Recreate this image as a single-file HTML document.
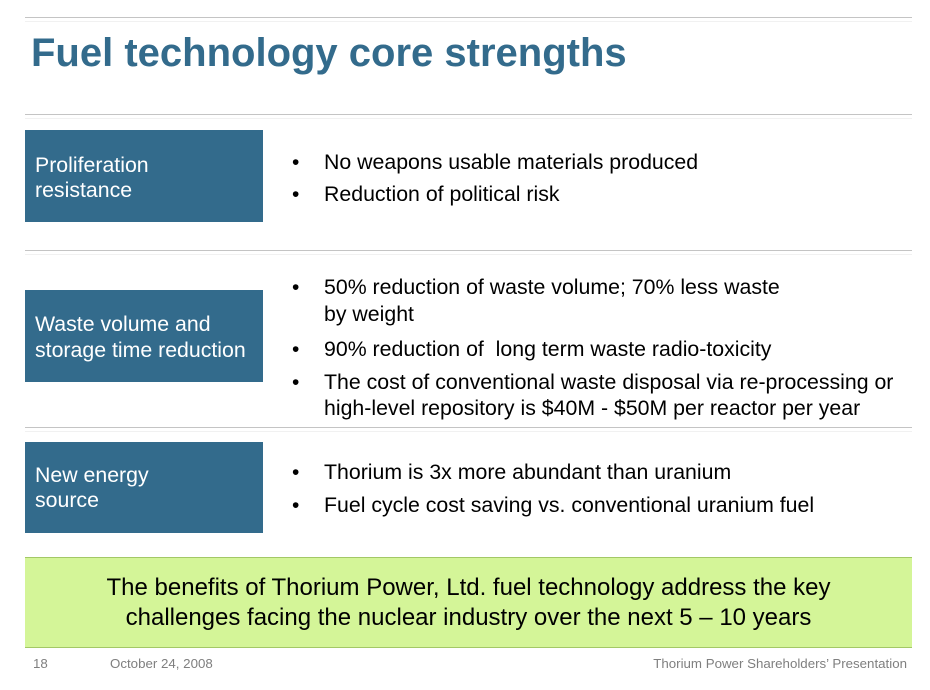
<!DOCTYPE html>
<html>
<head>
<meta charset="utf-8">
<style>
  html, body { margin:0; padding:0; }
  body { width:930px; height:690px; position:relative; background:#ffffff; overflow:hidden;
         font-family:"Liberation Sans", Arial, sans-serif; }
  .abs { position:absolute; white-space:nowrap; }
  .hr { position:absolute; left:25px; width:887px; height:1px; background:#c4c4c4; }
  .hr2 { position:absolute; left:25px; width:887px; height:1px; background:#f1f1f1; }
  .title { left:31px; top:30px; font-size:40px; line-height:46px; font-weight:bold; color:#336b8c; }
  .box { position:absolute; left:25px; width:238px; background:#336b8c; }
  .lab { left:35px; font-size:21.3px; color:#ffffff; }
  .dot { left:292px; font-size:21px; line-height:25px; color:#000; }
  .bt { left:324px; font-size:21.3px; line-height:25px; color:#000; }
  .green { position:absolute; left:25px; top:557px; width:887px; height:89px; background:#d4f598;
           border-top:1px solid #a3c866; border-bottom:1px solid #a3c866; }
  .gt { left:25px; width:887px; top:573px; font-size:24px; line-height:30px; text-align:center; color:#000; }
  .ft { top:656px; font-size:13.3px; line-height:15px; color:#7f7f7f; }
</style>
</head>
<body>
  <div class="hr" style="top:17px"></div>
  <div class="hr2" style="top:21px"></div>
  <div class="abs title">Fuel technology core strengths</div>

  <div class="hr" style="top:114px"></div>
  <div class="hr2" style="top:118px"></div>

  <div class="box" style="top:130px;height:92px"></div>
  <div class="abs lab" style="top:153px;line-height:25px">Proliferation<br>resistance</div>
  <div class="abs dot" style="top:150px">•</div>
  <div class="abs bt" style="top:150px">No weapons usable materials produced</div>
  <div class="abs dot" style="top:182px">•</div>
  <div class="abs bt" style="top:182px">Reduction of political risk</div>

  <div class="hr" style="top:250px"></div>
  <div class="hr2" style="top:254px"></div>

  <div class="box" style="top:290px;height:92px"></div>
  <div class="abs lab" style="top:311px;line-height:26px">Waste volume and<br>storage time reduction</div>
  <div class="abs dot" style="top:275px">•</div>
  <div class="abs bt" style="top:275px">50% reduction of waste volume; 70% less waste</div>
  <div class="abs bt" style="top:302px">by weight</div>
  <div class="abs dot" style="top:337px">•</div>
  <div class="abs bt" style="top:337px">90% reduction of&nbsp; long term waste radio-toxicity</div>
  <div class="abs dot" style="top:370px">•</div>
  <div class="abs bt" style="top:370px">The cost of conventional waste disposal via re-processing or</div>
  <div class="abs bt" style="top:396px">high-level repository is $40M - $50M per reactor per year</div>

  <div class="hr" style="top:427px"></div>
  <div class="hr2" style="top:431px"></div>

  <div class="box" style="top:442px;height:91px"></div>
  <div class="abs lab" style="top:463px;line-height:25px">New energy<br>source</div>
  <div class="abs dot" style="top:460px">•</div>
  <div class="abs bt" style="top:460px">Thorium is 3x more abundant than uranium</div>
  <div class="abs dot" style="top:493px">•</div>
  <div class="abs bt" style="top:493px">Fuel cycle cost saving vs. conventional uranium fuel</div>

  <div class="green"></div>
  <div class="abs gt">The benefits of Thorium Power, Ltd. fuel technology address the key<br>challenges facing the nuclear industry over the next 5 – 10 years</div>

  <div class="abs ft" style="left:33px">18</div>
  <div class="abs ft" style="left:110px">October 24, 2008</div>
  <div class="abs ft" style="right:23px">Thorium Power Shareholders’ Presentation</div>
</body>
</html>
